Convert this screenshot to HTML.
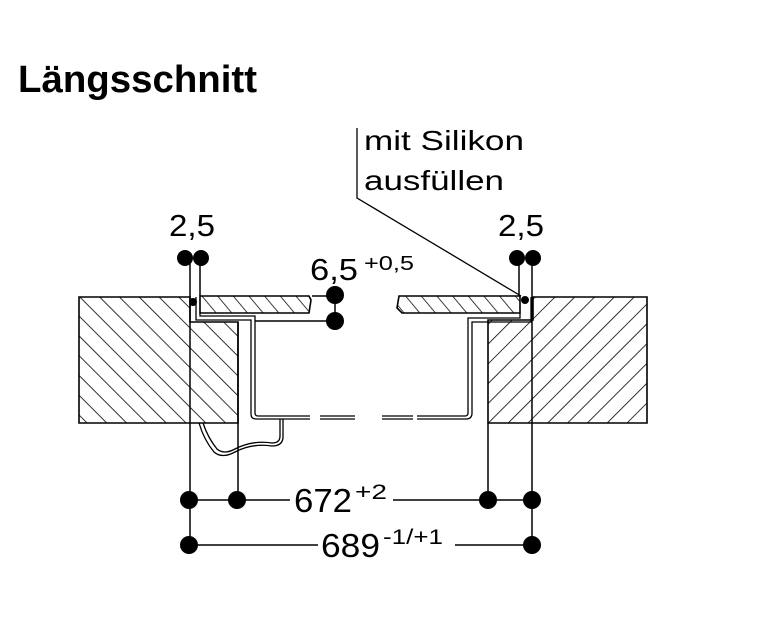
<!DOCTYPE html>
<html><head><meta charset="utf-8"><style>
html,body{margin:0;padding:0;background:#fff;}
svg{display:block}
text{font-family:"Liberation Sans",Arial,sans-serif;fill:#000}
</style></head><body>
<svg width="779" height="640" viewBox="0 0 779 640" xmlns="http://www.w3.org/2000/svg">
<defs>
<pattern id="hb" width="14" height="14" patternUnits="userSpaceOnUse" patternTransform="rotate(-45)">
<line x1="0" y1="0" x2="0" y2="14" stroke="#000" stroke-width="1.6"/></pattern>
<pattern id="hf" width="14" height="14" patternUnits="userSpaceOnUse" patternTransform="rotate(45)">
<line x1="0" y1="0" x2="0" y2="14" stroke="#000" stroke-width="1.6"/></pattern>
<pattern id="hg" width="12" height="12" patternUnits="userSpaceOnUse" patternTransform="rotate(-40)">
<line x1="0" y1="0" x2="0" y2="12" stroke="#000" stroke-width="1.5"/></pattern>
</defs>
<text x="18" y="92" font-size="38" font-weight="bold" textLength="239" lengthAdjust="spacingAndGlyphs">Längsschnitt</text>

<path d="M79,297 H190 V322 H238 V423 H79 Z" fill="url(#hb)" stroke="#000" stroke-width="1.6"/>
<path d="M533,297 H647 V423 H488 V320 H533 Z" fill="url(#hf)" stroke="#000" stroke-width="1.6"/>

<path d="M200,296 H309 L311,300 L309,313 H200 Z" fill="url(#hg)" stroke="#000" stroke-width="1.6"/>
<path d="M399,296 H520 V313 H402 L397,308 L399,296 Z" fill="url(#hg)" stroke="#000" stroke-width="1.6"/>

<g fill="none" stroke="#000" stroke-width="1.3">
<path d="M196,297 V320 H251 V414 Q251,419 256,419 H310"/>
<path d="M200,313 V316 H255 V413 Q255,416 258,416 H310"/>
<path d="M320,416 H355 M320,419 H355 M382,416 H413 M382,419 H413 M417,416 H465 Q468,416 468,413 V318 H520 V313 M417,419 H466 Q472,419 472,413 V322 H531 V297"/>
<path d="M199,423 Q204,440 214,452 Q222,459 235,452 Q252,443 272,446 Q282,446 283,438 V419"/>
<path d="M203,423 Q208,438 217,449 Q224,455 235,449 Q252,440 272,443 Q280,443 280,436 V419"/>
</g>

<g stroke="#000" stroke-width="1.5" fill="none">
<line x1="190" y1="262" x2="190" y2="545"/>
<line x1="200" y1="262" x2="200" y2="296"/>
<line x1="238" y1="322" x2="238" y2="500"/>
<line x1="488" y1="423" x2="488" y2="500"/>
<line x1="532" y1="262" x2="532" y2="545"/>
<line x1="519" y1="262" x2="519" y2="296"/>
<line x1="312" y1="296" x2="335" y2="296"/>
<line x1="255" y1="321" x2="335" y2="321"/>
<line x1="335" y1="296" x2="335" y2="321"/>
<line x1="189" y1="500" x2="290" y2="500"/>
<line x1="393" y1="500" x2="532" y2="500"/>
<line x1="189" y1="545" x2="318" y2="545"/>
<line x1="455" y1="545" x2="532" y2="545"/>
<path d="M357,128 V198 L521,296" stroke-width="1.3"/>
</g>
<g fill="#000">
<circle cx="185" cy="258" r="8"/><circle cx="201" cy="258" r="8"/>
<circle cx="517" cy="258" r="8"/><circle cx="533" cy="258" r="8"/>
<circle cx="335" cy="295" r="9"/><circle cx="335" cy="321" r="9"/>
<circle cx="193" cy="302" r="4"/><circle cx="525" cy="300" r="4"/>
<circle cx="189" cy="500" r="9"/><circle cx="237" cy="500" r="9"/>
<circle cx="488" cy="500" r="9"/><circle cx="532" cy="500" r="9"/>
<circle cx="189" cy="545" r="9"/><circle cx="532" cy="545" r="9"/>
</g>

<text x="169" y="236" font-size="31" textLength="46" lengthAdjust="spacingAndGlyphs">2,5</text>
<text x="498" y="236" font-size="31" textLength="46" lengthAdjust="spacingAndGlyphs">2,5</text>
<text x="310" y="280" font-size="31" textLength="48" lengthAdjust="spacingAndGlyphs">6,5</text>
<text x="364" y="270" font-size="20" textLength="50" lengthAdjust="spacingAndGlyphs">+0,5</text>
<text x="364" y="150" font-size="28" textLength="160" lengthAdjust="spacingAndGlyphs">mit Silikon</text>
<text x="364" y="190" font-size="28" textLength="140" lengthAdjust="spacingAndGlyphs">ausfüllen</text>
<text x="294" y="512" font-size="33" textLength="58" lengthAdjust="spacingAndGlyphs">672</text>
<text x="355" y="499" font-size="21" textLength="32" lengthAdjust="spacingAndGlyphs">+2</text>
<text x="321" y="557" font-size="33" textLength="59" lengthAdjust="spacingAndGlyphs">689</text>
<text x="383" y="544" font-size="21" textLength="60" lengthAdjust="spacingAndGlyphs">-1/+1</text>
</svg>
</body></html>
